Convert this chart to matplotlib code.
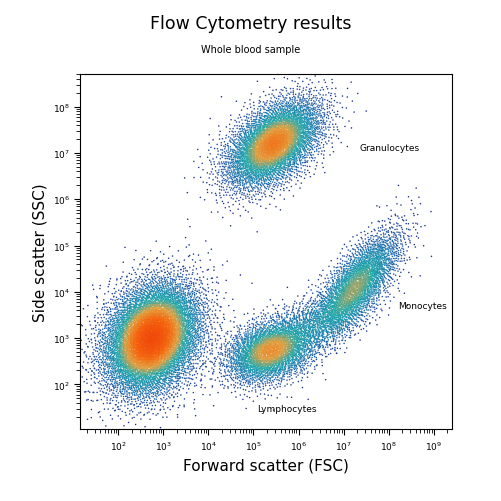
import numpy as np
import matplotlib.pyplot as plt
from matplotlib.colors import LinearSegmentedColormap

# Populations in log10 units: centre x, centre y, sd x, sd y, correlation, event count
POP_NAMES = ["Debris", "Granulocytes", "Lymphocytes", "Bridge", "Monocytes"]
CENTER_X = [2.75, 5.45, 5.35, 6.3, 7.3]
CENTER_Y = [3.0, 7.2, 2.7, 3.3, 4.15]
SD_X = [0.55, 0.55, 0.5, 0.65, 0.5]
SD_Y = [0.62, 0.5, 0.35, 0.4, 0.6]
CORR = [0.25, 0.5, 0.3, 0.6, 0.75]
COUNT = [9000, 5000, 3000, 1000, 3000]

LABELS = ["Granulocytes", "Lymphocytes", "Monocytes"]
LABEL_X = [2.3e7, 1.2e5, 1.6e8]
LABEL_Y = [1.3e7, 3e1, 5e3]


def halton(n, base):
    # deterministic low-discrepancy sequence, used instead of random draws
    out = np.zeros(n)
    i = np.arange(1, n + 1)
    f = 1.0
    while np.any(i > 0):
        f /= base
        out += f * (i % base)
        i //= base
    return out


xs, ys = [], []
offset = 7
for cx, cy, sx, sy, r, n in zip(CENTER_X, CENTER_Y, SD_X, SD_Y, CORR, COUNT):
    u1 = halton(n + offset, 5)[offset:]
    u2 = halton(n + offset, 7)[offset:]
    offset += n
    rad = np.sqrt(-2 * np.log(np.clip(u1, 1e-9, 1)))
    z1 = rad * np.cos(2 * np.pi * u2)
    z2 = rad * np.sin(2 * np.pi * u2)
    xs.append(cx + sx * z1)
    ys.append(cy + sy * (r * z1 + np.sqrt(1 - r * r) * z2))
lx = np.concatenate(xs)
ly = np.concatenate(ys)

# colour by local density (histogram smoothed with a box filter)
nb = 120
H, xe, ye = np.histogram2d(lx, ly, bins=nb, range=[[1, 9.5], [1, 9]])
k = 3
Hp = np.pad(H, k)
S = np.zeros_like(H)
for dx in range(-k, k + 1):
    for dy in range(-k, k + 1):
        S += Hp[k + dx:k + dx + nb, k + dy:k + dy + nb]
ix = np.clip(np.digitize(lx, xe) - 1, 0, nb - 1)
iy = np.clip(np.digitize(ly, ye) - 1, 0, nb - 1)
dens = S[ix, iy] / S.max()
order = np.argsort(dens)

cmap = LinearSegmentedColormap.from_list(
    "flow", [(0.0, "#1a2a8a"), (0.2, "#1f55a8"), (0.4, "#1a88b0"),
             (0.55, "#22a8a8"), (0.7, "#e0a040"), (0.85, "#f46a10"), (1.0, "#f04a0a")])

fig = plt.figure(figsize=(5.02, 5.02), dpi=100)
ax = fig.add_axes([0.16, 0.143, 0.74, 0.707])
ax.scatter(10 ** lx[order], 10 ** ly[order], c=dens[order] ** 0.7, cmap=cmap,
           s=1.2, linewidths=0, vmin=0.0, vmax=1.0)
ax.set_xscale("log")
ax.set_yscale("log")
ax.set_xlim(10 ** 1.16, 10 ** 9.4)
ax.set_ylim(10 ** 1.03, 10 ** 8.7)
ax.set_xticks([10 ** k for k in range(2, 10)])
ax.set_yticks([10 ** k for k in range(2, 9)])
ax.tick_params(labelsize=6.5, direction="out", length=4, width=0.8)
ax.tick_params(which="minor", length=3, width=0.6)
for sp in ax.spines.values():
    sp.set_linewidth(0.8)

for t, x, y in zip(LABELS, LABEL_X, LABEL_Y):
    ax.text(x, y, t, fontsize=6.5, ha="left", va="center")

ax.set_xlabel("Forward scatter (FSC)", fontsize=11)
ax.set_ylabel("Side scatter (SSC)", fontsize=11)
fig.text(0.5, 0.942, "Flow Cytometry results", ha="center", fontsize=12.5)
fig.text(0.5, 0.895, "Whole blood sample", ha="center", fontsize=7)
fig.savefig("out.png", dpi=100)
